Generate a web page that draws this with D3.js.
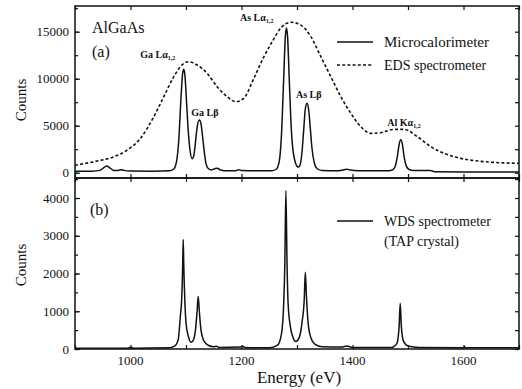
<!DOCTYPE html>
<html>
<head>
<meta charset="utf-8">
<script src="https://cdn.jsdelivr.net/npm/d3@7"></script>
<style>
body{margin:0;background:#fff;}
text{font-family:"Liberation Serif","Times New Roman",serif;fill:#111;}
</style>
</head>
<body>
<div id="chart"></div>
<script>
// energy axis (eV)
var xTicks=[1000,1200,1400,1600];

// (a) microcalorimeter spectrum
var mcEnergy=[900,930,945,952,957,962,970,978,983,988,1000,1040,1070,1078,1083,1087,1091,1094,1096,1098,1101,1104,1107,1111,1114,1117,1120,1124,1127,1130,1133,1136,1140,1146,1153,1157,1162,1175,1190,1195,1200,1230,1255,1263,1268,1272,1276,1279,1281,1283,1286,1289,1292,1296,1300,1303,1306,1309,1312,1315,1318,1321,1324,1327,1331,1336,1345,1370,1385,1390,1396,1410,1460,1472,1477,1481,1484,1487,1490,1493,1497,1502,1510,1540,1550,1600,1700];
var mcCounts=[150,170,250,550,720,550,250,250,330,250,180,170,200,400,1200,3500,8000,10600,11000,10400,7500,4500,2500,1500,1800,3200,4800,5600,5200,3800,2200,1000,450,300,450,480,300,200,220,320,230,200,220,400,1200,4000,10000,14500,15400,14500,10000,5500,2800,1300,700,600,900,2200,4500,6800,7400,6700,4700,2600,1100,450,230,200,320,380,280,200,200,300,700,1800,3000,3500,3000,1700,700,350,250,230,100,90,90];

// (a) EDS spectrum
var edsEnergy=[900,934,970,994,1018,1042,1060,1078,1090,1105,1120,1138,1156,1174,1190,1204,1222,1240,1255,1271,1289,1307,1325,1343,1361,1379,1397,1415,1433,1451,1475,1493,1517,1541,1565,1595,1626,1655,1700];
var edsCounts=[800,1170,1700,2400,3660,5960,8090,10210,11280,11800,11460,10570,9150,8090,7550,7910,10000,12300,13900,15400,16000,15700,14470,12340,10200,8090,6320,4890,4190,4260,4610,4610,3830,2770,2060,1530,1240,1100,1000];

// (b) WDS spectrum
var wdsEnergy=[900,995,1000,1005,1070,1080,1086,1090,1092,1094,1095,1096,1098,1100,1104,1109,1113,1117,1120,1122,1124,1127,1132,1140,1150,1155,1160,1200,1203,1206,1250,1265,1272,1276,1278,1280,1282,1284,1288,1293,1298,1304,1309,1313,1315,1317,1320,1325,1332,1345,1380,1390,1400,1470,1480,1484,1486,1488,1492,1500,1520,1600,1602,1604,1700];
var wdsCounts=[20,20,45,20,30,80,250,900,1250,2200,2900,2200,1250,700,350,180,230,500,1000,1390,1000,500,220,100,60,70,40,50,70,40,30,100,400,1200,2200,4200,2300,1200,600,300,200,300,700,1300,2030,1400,700,300,130,60,50,80,40,40,150,600,1215,600,200,80,40,30,60,30,30];

// peak labels
var peakNames=["Ga L\u03b1","Ga L\u03b2","As L\u03b1","As L\u03b2","Al K\u03b1"];
var peakSubs=["1,2","","1,2","","1,2"];
var peakAt=[1095,1124,1282,1318,1488];
var peakTop=[11100,5600,15500,7400,3500];
// label offset from the peak, px
var labDx=[-43,-8,-47,-11,-14],
    labDy=[-10,-4,-6,-5,-14];

var width=522,height=389;
var left=75,right=519,topA=6,mid=178,botB=349;

var svg=d3.select("#chart").append("svg")
    .attr("width",width)
    .attr("height",height);

var x=d3.scaleLinear().domain([900,1700]).range([left,right]);
var yA=d3.scaleLinear().domain([-560,17730]).range([mid,topA]);
var yB=d3.scaleLinear().domain([0,4530]).range([botB,mid]);

function pts(e,c){return e.map(function(v,i){return [v,c[i]];});}

// panel frames + ticks
function frame(y,y0,y1,major,minor){
    var g=svg.append("g");
    // left / right
    g.append("g").attr("transform","translate("+left+",0)")
        .call(d3.axisRight(y).tickValues(d3.range(0,y.domain()[1],minor)).tickSize(3).tickFormat(""));
    g.append("g").attr("transform","translate("+left+",0)")
        .call(d3.axisRight(y).tickValues(d3.range(0,y.domain()[1],major)).tickSize(5).tickFormat(""));
    g.append("g").attr("transform","translate("+right+",0)")
        .call(d3.axisLeft(y).tickValues(d3.range(0,y.domain()[1],minor)).tickSize(4).tickFormat(""));
    // labels
    g.selectAll(".yl").data(d3.range(0,y.domain()[1],major)).enter()
        .append("text")
        .attr("x",left-6).attr("y",function(d){return y(d)+4.5;})
        .attr("text-anchor","end")
        .style("font-size","13px")
        .text(function(d){return d;});
    // top / bottom
    g.append("g").attr("transform","translate(0,"+y0+")")
        .call(d3.axisTop(x).ticks(8).tickSize(4).tickFormat(""));
    g.append("g").attr("transform","translate(0,"+y1+")")
        .call(d3.axisBottom(x).ticks(8).tickSize(4).tickFormat(""));
    g.selectAll(".domain").remove();
    g.selectAll(".tick line").attr("stroke","#111").attr("stroke-width",1.2);
    g.append("rect")
        .attr("x",left).attr("y",y1)
        .attr("width",right-left).attr("height",y0-y1)
        .attr("fill","none").attr("stroke","#111").attr("stroke-width",1.5);
}
frame(yA,mid,topA,5000,2500);
frame(yB,botB,mid,1000,500);

// x tick labels (b)
svg.selectAll(".xl").data(xTicks).enter()
    .append("text")
    .attr("x",function(d){return x(d);})
    .attr("y",botB+16)
    .attr("text-anchor","middle")
    .style("font-size","13px")
    .text(function(d){return d;});

var line=d3.line().curve(d3.curveMonotoneX);

svg.append("clipPath").attr("id","ca").append("rect")
    .attr("x",left).attr("y",topA).attr("width",right-left).attr("height",mid-topA);

svg.append("path")
    .datum(pts(edsEnergy,edsCounts))
    .attr("clip-path","url(#ca)")
    .attr("fill","none").attr("stroke","#111").attr("stroke-width",1.6)
    .attr("stroke-dasharray","3,2.2")
    .attr("d",line.x(function(d){return x(d[0]);}).y(function(d){return yA(d[1]);}));

svg.append("path")
    .datum(pts(mcEnergy,mcCounts))
    .attr("fill","none").attr("stroke","#111").attr("stroke-width",1.5)
    .attr("d",line.x(function(d){return x(d[0]);}).y(function(d){return yA(d[1]);}));

svg.append("path")
    .datum(pts(wdsEnergy,wdsCounts))
    .attr("fill","none").attr("stroke","#111").attr("stroke-width",1.5)
    .attr("d",line.x(function(d){return x(d[0]);}).y(function(d){return yB(d[1]);}));

// peak labels
var lab=svg.selectAll(".pk").data(peakNames).enter()
    .append("text")
    .attr("x",function(d,i){return x(peakAt[i])+labDx[i];})
    .attr("y",function(d,i){return yA(peakTop[i])+labDy[i];})
    .style("font-size","10px")
    .style("font-weight","bold");
lab.append("tspan").text(function(d){return d;});
lab.append("tspan").attr("dy",2).style("font-size","6px").text(function(d,i){return peakSubs[i];});

// titles
svg.append("text").attr("x",92).attr("y",33).style("font-size","16px").text("AlGaAs");
svg.append("text").attr("x",92).attr("y",57).style("font-size","16px").text("(a)");
svg.append("text").attr("x",90).attr("y",215).style("font-size","16px").text("(b)");

// legends
function legendRow(y,dash,txt,fs){
    svg.append("line").attr("x1",337).attr("x2",373).attr("y1",y).attr("y2",y)
        .attr("stroke","#111").attr("stroke-width",1.6)
        .attr("stroke-dasharray",dash);
    svg.append("text").attr("x",384).attr("y",y+5).style("font-size",fs||"14px").text(txt);
}
legendRow(42,null,"Microcalorimeter","15px");
legendRow(65,"3,2.2","EDS spectrometer");
legendRow(221,null,"WDS spectrometer");
svg.append("text").attr("x",384).attr("y",246).style("font-size","14px").text("(TAP crystal)");

// axis titles
svg.append("text").attr("transform","translate(26,100) rotate(-90)")
    .attr("text-anchor","middle").style("font-size","15px").text("Counts");
svg.append("text").attr("transform","translate(26,265) rotate(-90)")
    .attr("text-anchor","middle").style("font-size","15px").text("Counts");
svg.append("text").attr("x",(left+right)/2+2).attr("y",383)
    .attr("text-anchor","middle").style("font-size","17px").text("Energy (eV)");
</script>
</body>
</html>
